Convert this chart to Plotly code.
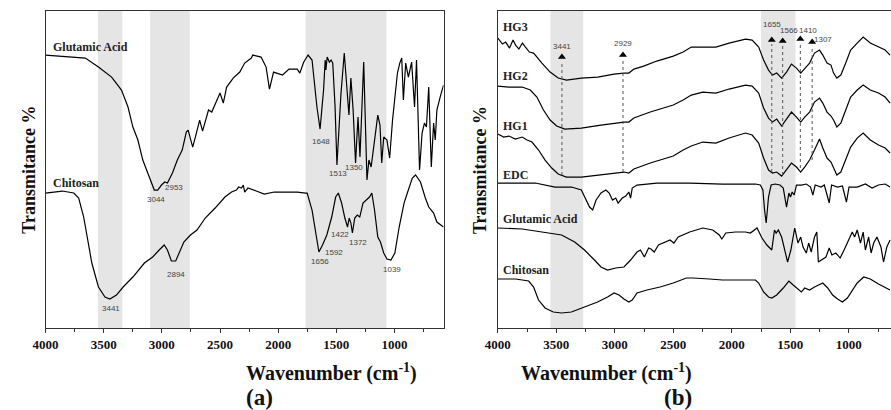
import plotly.graph_objects as go

# ---------------- Panel (a) data ----------------
ga_a_wn = [4000, 3850, 3658, 3545, 3432, 3347, 3291, 3249, 3206, 3164, 3121, 3065, 3036, 3003, 2975, 2952, 2909, 2867, 2825, 2790, 2774, 2735, 2712, 2675, 2650, 2599, 2571, 2528, 2500, 2472, 2443, 2387, 2330, 2288, 2231, 2218, 2147, 2104, 2075, 2040, 1963, 1907, 1836, 1814, 1780, 1743, 1709, 1667, 1640, 1610, 1596, 1590, 1579, 1560, 1545, 1531, 1511, 1495, 1460, 1432, 1407, 1392, 1375, 1356, 1335, 1314, 1297, 1265, 1237, 1220, 1201, 1172, 1144, 1125, 1110, 1093, 1065, 1042, 1017, 975, 955, 938, 924, 904, 881, 853, 828, 811, 785, 763, 743, 726, 706, 684, 664, 650, 636, 608, 579]
ga_a_t = [273, 272, 270, 261, 251, 238, 221, 201, 188, 168, 155, 138, 138, 143, 146, 145, 155, 168, 178, 196, 198, 181, 191, 208, 197, 218, 216, 228, 235, 225, 241, 250, 256, 265, 270, 273, 271, 261, 239, 256, 253, 259, 259, 255, 266, 273, 268, 221, 199, 238, 268, 258, 271, 266, 268, 265, 221, 163, 235, 275, 231, 213, 250, 218, 165, 211, 171, 266, 148, 168, 161, 188, 213, 203, 165, 191, 188, 170, 208, 255, 265, 270, 228, 265, 251, 266, 221, 268, 158, 195, 205, 201, 241, 161, 205, 188, 218, 231, 243]

ch_a_wn = [4000, 3856, 3757, 3715, 3672, 3644, 3602, 3545, 3489, 3447, 3390, 3333, 3249, 3150, 3079, 3023, 2980, 2952, 2918, 2881, 2853, 2811, 2754, 2698, 2627, 2542, 2458, 2401, 2359, 2340, 2316, 2300, 2288, 2260, 2189, 2119, 2034, 1921, 1836, 1765, 1751, 1709, 1675, 1650, 1619, 1582, 1540, 1506, 1483, 1455, 1427, 1404, 1390, 1375, 1362, 1342, 1320, 1299, 1271, 1243, 1215, 1195, 1172, 1144, 1121, 1093, 1065, 1031, 997, 960, 918, 890, 847, 819, 777, 735, 706, 664, 636, 579]
ch_a_t = [135, 137, 135, 130, 111, 91, 65, 41, 31, 29, 33, 41, 51, 65, 71, 78, 83, 78, 67, 67, 75, 86, 93, 98, 110, 120, 131, 136, 138, 141, 140, 143, 136, 140, 137, 134, 136, 136, 136, 135, 135, 118, 95, 76, 83, 93, 111, 131, 135, 125, 110, 101, 110, 105, 95, 110, 113, 111, 125, 128, 131, 135, 118, 91, 86, 75, 69, 68, 75, 101, 125, 135, 150, 153, 146, 130, 121, 115, 106, 101]

# ---------------- Panel (b) data ----------------
hg3_wn = [4000, 3960, 3933, 3900, 3870, 3848, 3820, 3790, 3764, 3730, 3694, 3660, 3623, 3553, 3484, 3413, 3286, 3147, 3006, 2922, 2880, 2837, 2753, 2641, 2500, 2416, 2346, 2248, 2136, 2023, 1883, 1826, 1770, 1728, 1686, 1652, 1616, 1574, 1532, 1490, 1447, 1411, 1377, 1335, 1293, 1250, 1222, 1186, 1152, 1130, 1102, 1068, 1026, 984, 928, 877, 816, 746, 689, 647]
hg3_t = [290, 284, 286, 280, 288, 283, 279, 285, 281, 276, 275, 270, 265, 256, 250, 248, 250, 251, 254, 255, 255, 259, 262, 267, 272, 276, 281, 281, 281, 285, 289, 288, 281, 268, 258, 253, 255, 250, 256, 264, 260, 255, 260, 265, 275, 278, 273, 265, 263, 255, 250, 253, 265, 278, 285, 291, 285, 281, 278, 273]

hg2_wn = [4000, 3905, 3792, 3722, 3666, 3610, 3553, 3497, 3427, 3286, 3118, 2949, 2922, 2880, 2837, 2697, 2500, 2416, 2346, 2248, 2136, 2023, 1883, 1826, 1770, 1728, 1686, 1652, 1616, 1574, 1532, 1490, 1447, 1411, 1377, 1335, 1293, 1250, 1222, 1186, 1152, 1130, 1102, 1068, 1026, 984, 928, 877, 816, 746, 689, 647]
hg2_t = [242, 241, 241, 238, 231, 218, 208, 202, 199, 200, 203, 206, 206, 206, 210, 216, 223, 228, 233, 236, 235, 239, 243, 242, 235, 220, 210, 206, 209, 202, 209, 216, 211, 206, 211, 216, 226, 230, 225, 216, 212, 208, 201, 205, 218, 231, 238, 243, 238, 235, 231, 225]

hg1_wn = [4000, 3950, 3905, 3850, 3792, 3750, 3708, 3652, 3596, 3539, 3484, 3413, 3286, 3118, 2949, 2922, 2880, 2837, 2697, 2500, 2416, 2346, 2248, 2136, 2023, 1883, 1826, 1770, 1728, 1686, 1652, 1616, 1574, 1532, 1490, 1447, 1411, 1377, 1335, 1293, 1250, 1222, 1186, 1152, 1130, 1102, 1068, 1026, 984, 928, 877, 816, 746, 689, 647]
hg1_t = [194, 191, 192, 189, 191, 188, 186, 178, 168, 160, 154, 151, 151, 153, 155, 156, 155, 159, 165, 172, 178, 182, 186, 185, 190, 195, 193, 185, 170, 158, 155, 156, 152, 158, 165, 161, 156, 161, 168, 178, 189, 180, 170, 166, 160, 153, 156, 168, 181, 190, 195, 188, 183, 180, 175]

edc_wn = [4000, 3848, 3680, 3511, 3371, 3286, 3244, 3216, 3189, 3160, 3118, 3076, 3048, 3020, 2992, 2972, 2936, 2907, 2880, 2865, 2851, 2810, 2641, 2360, 2079, 1798, 1756, 1734, 1720, 1706, 1686, 1664, 1630, 1588, 1560, 1532, 1512, 1498, 1484, 1467, 1447, 1405, 1363, 1327, 1307, 1287, 1237, 1209, 1167, 1147, 1096, 1054, 1020, 998, 928, 858, 801, 746, 689, 647]
edc_t = [145, 145, 145, 141, 141, 138, 128, 121, 118, 128, 135, 138, 135, 128, 130, 125, 130, 132, 136, 130, 140, 143, 145, 145, 144, 144, 143, 138, 118, 105, 131, 143, 144, 143, 140, 121, 135, 131, 136, 133, 143, 143, 144, 141, 133, 143, 141, 143, 125, 143, 141, 142, 126, 141, 141, 144, 140, 143, 144, 141]

ga_b_wn = [4000, 3792, 3623, 3455, 3343, 3259, 3174, 3118, 3062, 2992, 2922, 2865, 2810, 2781, 2747, 2711, 2691, 2663, 2627, 2585, 2528, 2495, 2458, 2360, 2248, 2163, 2107, 2085, 2051, 1967, 1883, 1841, 1798, 1784, 1742, 1700, 1658, 1635, 1621, 1602, 1574, 1545, 1523, 1495, 1462, 1434, 1411, 1391, 1363, 1343, 1321, 1293, 1273, 1260, 1231, 1195, 1167, 1144, 1110, 1074, 1040, 998, 970, 950, 928, 900, 877, 858, 830, 809, 787, 759, 725, 703, 675, 647]
ga_b_t = [100, 99, 96, 93, 86, 78, 68, 61, 58, 60, 61, 68, 76, 78, 71, 80, 79, 76, 83, 85, 88, 85, 91, 96, 100, 98, 93, 89, 95, 96, 96, 95, 99, 100, 90, 83, 78, 98, 95, 98, 91, 78, 66, 78, 100, 85, 91, 81, 75, 85, 76, 91, 96, 66, 68, 71, 80, 73, 75, 70, 78, 88, 96, 91, 98, 85, 96, 78, 91, 75, 85, 91, 81, 66, 81, 88]

ch_b_wn = [4000, 3848, 3736, 3694, 3652, 3596, 3526, 3455, 3371, 3259, 3147, 3062, 3006, 2964, 2922, 2880, 2851, 2810, 2725, 2613, 2500, 2388, 2332, 2191, 2079, 1798, 1770, 1728, 1686, 1658, 1616, 1560, 1512, 1475, 1434, 1405, 1377, 1335, 1293, 1250, 1222, 1180, 1138, 1096, 1054, 1012, 970, 928, 872, 816, 746, 689, 647]
ch_b_t = [49, 49, 47, 41, 28, 20, 16, 15, 16, 21, 26, 31, 35, 33, 29, 26, 28, 35, 38, 41, 45, 50, 50, 49, 48, 48, 45, 36, 31, 30, 33, 40, 47, 43, 39, 36, 40, 38, 41, 43, 45, 40, 33, 29, 26, 30, 38, 45, 51, 49, 44, 41, 38]

# ---------------- Annotation data ----------------
bands_a = [(3550, 3340), (3100, 2760), (1765, 1070)]
bands_b = [(3550, 3270), (1750, 1455)]

peaks_a_text = ["3044", "2953", "3441", "2894", "1648", "1513", "1350", "1656", "1592", "1422", "1372", "1039"]
peaks_a_x = [3051, 2898, 3441, 2881, 1636, 1483, 1347, 1644, 1517, 1466, 1314, 1025]
peaks_a_y = [129, 141, 20, 54, 187, 155, 161, 67, 76, 94, 86, 59]

names_a = ["Glutamic Acid", "Chitosan"]
names_a_y = [281, 145]
names_b = ["HG3", "HG2", "HG1", "EDC", "Glutamic Acid", "Chitosan"]
names_b_y = [301, 252, 202, 153, 109, 58]

arrow_text = ["3441", "2929", "1655", "1566", "1410", "1307"]
arrow_x = [3452, 2930, 1658, 1565, 1414, 1313]
arrow_y = [271, 273, 288, 287, 289, 286]
arrow_bottom = [153, 156, 156, 153, 160, 168]
arrow_lbl_x = [3452, 2930, 1658, 1515, 1346, 1220]
arrow_lbl_y = [282, 285, 304, 298, 298, 289]

tick_vals = [4000, 3500, 3000, 2500, 2000, 1500, 1000]
tick_text = ["4000", "3500", "3000", "2500", "2000", "1500", "1000"]

SERIF = "Liberation Serif"
SANS = "Liberation Sans"
LINE = dict(color="black", width=1.2)

fig = go.Figure()
for wn, t in [(ga_a_wn, ga_a_t), (ch_a_wn, ch_a_t)]:
    fig.add_trace(go.Scatter(x=wn, y=t, mode="lines", line=LINE, xaxis="x", yaxis="y", hoverinfo="skip"))
for wn, t in [(hg3_wn, hg3_t), (hg2_wn, hg2_t), (hg1_wn, hg1_t), (edc_wn, edc_t), (ga_b_wn, ga_b_t), (ch_b_wn, ch_b_t)]:
    fig.add_trace(go.Scatter(x=wn, y=t, mode="lines", line=LINE, xaxis="x2", yaxis="y2", hoverinfo="skip"))

fig.add_trace(go.Scatter(x=arrow_x, y=arrow_y, mode="markers", xaxis="x2", yaxis="y2",
                         marker=dict(symbol="triangle-up", size=7, color="black"), hoverinfo="skip"))

shapes = []
for a, b in bands_a:
    shapes.append(dict(type="rect", xref="x", yref="paper", x0=a, x1=b, y0=0.2, y1=0.973,
                       fillcolor="#e5e5e5", line=dict(width=0), layer="below"))
for a, b in bands_b:
    shapes.append(dict(type="rect", xref="x2", yref="paper", x0=a, x1=b, y0=0.2, y1=0.973,
                       fillcolor="#e5e5e5", line=dict(width=0), layer="below"))
for x, y0, y1 in zip(arrow_x, arrow_bottom, arrow_y):
    shapes.append(dict(type="line", xref="x2", yref="y2", x0=x, x1=x, y0=y0, y1=y1 - 4,
                       line=dict(color="#555", width=1, dash="dot")))

ann = []
for txt, x, y in zip(peaks_a_text, peaks_a_x, peaks_a_y):
    ann.append(dict(text=txt, x=x, y=y, xref="x", yref="y", showarrow=False,
                    font=dict(family=SANS, size=8, color="#444")))
for txt, y in zip(names_a, names_a_y):
    ann.append(dict(text="<b>%s</b>" % txt, x=3950, y=y, xref="x", yref="y", showarrow=False,
                    xanchor="left", font=dict(family=SERIF, size=12, color="#222")))
for txt, y in zip(names_b, names_b_y):
    ann.append(dict(text="<b>%s</b>" % txt, x=3975, y=y, xref="x2", yref="y2", showarrow=False,
                    xanchor="left", font=dict(family=SERIF, size=12, color="#222")))
for txt, x, y in zip(arrow_text, arrow_lbl_x, arrow_lbl_y):
    ann.append(dict(text=txt, x=x, y=y, xref="x2", yref="y2", showarrow=False,
                    font=dict(family=SANS, size=8, color="#444")))

for xc, lab in [(0.2635, "(a)"), (0.776, "(b)")]:
    ann.append(dict(text="<b>Wavenumber (cm<sup>-1</sup>)</b>", x=xc, y=1 - 372 / 410, xref="paper", yref="paper",
                    showarrow=False, font=dict(family=SERIF, size=20, color="#111"), yanchor="middle"))
    ann.append(dict(text="<b>%s</b>" % lab, x=xc, y=1 - 397 / 410, xref="paper", yref="paper",
                    showarrow=False, font=dict(family=SERIF, size=23, color="#111"), yanchor="middle"))
for xp in [16 / 891, 474 / 891]:
    ann.append(dict(text="<b>Transmitance %</b>", x=xp, y=1 - 170 / 410, xref="paper", yref="paper",
                    showarrow=False, textangle=-90, font=dict(family=SERIF, size=18, color="#111"),
                    xanchor="center", yanchor="middle"))

xcommon = dict(tickvals=tick_vals, ticktext=tick_text, ticks="outside", ticklen=4, tickcolor="#333",
               showline=True, linecolor="#333", linewidth=1, mirror=True, showgrid=False, zeroline=False,
               tickfont=dict(family=SERIF, size=13, color="#111", weight="bold"),
               minor=dict(dtick=250, ticks="outside", ticklen=3, tickcolor="#333"))
ycommon = dict(range=[0, 317], showticklabels=False, ticks="", showgrid=False, zeroline=False,
               showline=True, linecolor="#333", linewidth=1, domain=[0.2, 0.973])

fig.update_layout(
    width=891, height=410, margin=dict(l=0, r=0, t=0, b=0),
    paper_bgcolor="white", plot_bgcolor="white", showlegend=False,
    xaxis=dict(xcommon, range=[4000, 578], domain=[33 / 891, 437 / 891], anchor="y"),
    yaxis=dict(ycommon, mirror=True, anchor="x"),
    xaxis2=dict(xcommon, range=[4000, 639], domain=[492 / 891, 1.0], anchor="y2"),
    yaxis2=dict(ycommon, mirror=False, anchor="x2"),
    shapes=shapes, annotations=ann,
)

fig.write_html("out.html", config={"displayModeBar": False},
               post_script="document.body.style.margin='0px';document.body.style.overflow='hidden';")
